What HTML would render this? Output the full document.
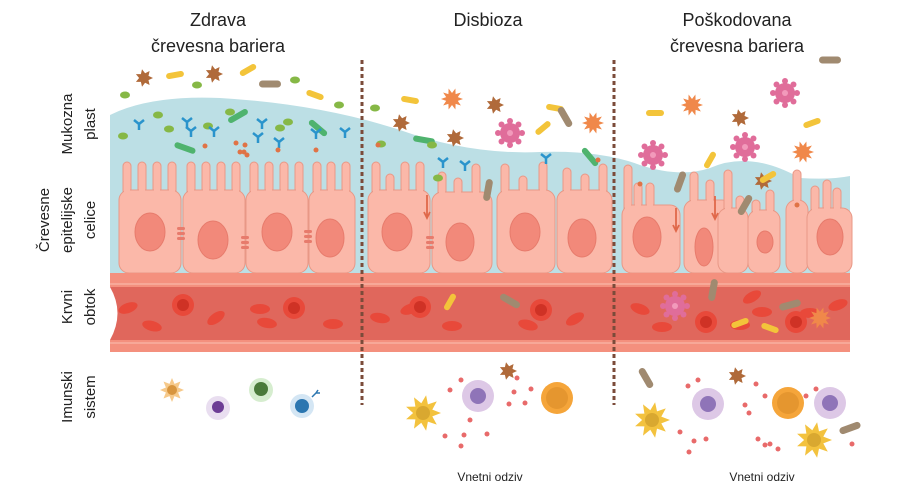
<!DOCTYPE html>
<html><head><meta charset="utf-8"><style>
body{margin:0;background:#fff;width:914px;height:491px;overflow:hidden}
svg{display:block}
text{font-family:"Liberation Sans",sans-serif;fill:#222}
</style></head><body>
<svg id="s" width="914" height="491" viewBox="0 0 914 491">
<g font-size="18" text-anchor="middle">
<text x="218" y="26">Zdrava</text><text x="218" y="52">črevesna bariera</text>
<text x="488" y="26">Disbioza</text>
<text x="737" y="26">Poškodovana</text><text x="737" y="52">črevesna bariera</text>
</g>
<g font-size="15" text-anchor="middle">
<g transform="translate(0,124) rotate(-90)"><text x="0" y="72">Mukozna</text><text x="0" y="95">plast</text></g>
<g transform="translate(0,220) rotate(-90)"><text x="0" y="49">Črevesne</text><text x="0" y="72">epitelijske</text><text x="0" y="95">celice</text></g>
<g transform="translate(0,307) rotate(-90)"><text x="0" y="72">Krvni</text><text x="0" y="95">obtok</text></g>
<g transform="translate(0,397) rotate(-90)"><text x="0" y="72">Imunski</text><text x="0" y="95">sistem</text></g>
</g>
<g font-size="12" text-anchor="middle"><text x="490" y="481">Vnetni odziv</text><text x="762" y="481">Vnetni odziv</text></g>
<path d="M110 115 Q150 95 220 98 Q320 104 400 130 Q470 155 540 152 Q600 150 640 165 Q680 178 710 168 Q750 150 800 178 Q830 180 850 176 L850 275 L110 275Z" fill="#bcdfe5"/>
<g id="cells"></g>
<rect x="110" y="273" width="740" height="14" fill="#f4907e"/>
<rect x="110" y="283" width="740" height="2" fill="#f7a898"/>
<path d="M110 287 H850 V340 H110 Q125 313 110 287Z" fill="#e0675c"/>
<rect x="110" y="340" width="740" height="12" fill="#f4907e"/>
<rect x="110" y="342" width="740" height="2" fill="#f7a898"/>
<g id="blood"></g>
<g id="bugs"></g>
<line x1="362" y1="60" x2="362" y2="405" stroke="#7b4b3a" stroke-width="3" stroke-dasharray="4 3"/>
<line x1="614" y1="60" x2="614" y2="405" stroke="#7b4b3a" stroke-width="3" stroke-dasharray="4 3"/>
</svg>
<script>
const NS="http://www.w3.org/2000/svg";
function el(p,t,a){const e=document.createElementNS(NS,t);for(const k in a)e.setAttribute(k,a[k]);document.getElementById(p).appendChild(e);return e;}
const C="#fbb8a9",B="#e89886";
function cell(x,w,top,nx,ny,rx,ry,fingers,fh){
  fingers.forEach((f,i)=>{el("cells","rect",{x:x+f,y:top-(fh[i]||28),width:8,height:(fh[i]||28)+10,rx:4,fill:C,stroke:B,"stroke-width":1});});
  el("cells","rect",{x:x,y:top,width:w,height:273-top,rx:10,fill:C,stroke:B,"stroke-width":1});
  fingers.forEach((f,i)=>{el("cells","rect",{x:x+f+1,y:top-2,width:6,height:8,fill:C});});
  if(rx>2)el("cells","ellipse",{cx:nx,cy:ny,rx:rx,ry:ry,fill:"#f2897a",stroke:"#e77b6c"});
}
const F4=[4,19,34,49];
cell(119,62,190,150,232,15,19,F4,[]);
cell(183,62,190,213,240,15,19,F4,[]);
cell(246,62,190,277,232,15,19,F4,[]);
cell(309,46,190,330,238,14,19,[4,18,33],[]);
cell(368,62,190,397,232,15,19,[4,18,33,48],[28,16,28,28]);
cell(432,60,192,460,242,14,19,[6,22,40],[20,14,28]);
cell(497,58,190,525,232,15,19,[4,22,42],[26,14,28]);
cell(557,55,190,582,238,14,19,[6,24,42],[22,16,26]);
cell(622,58,205,647,237,14,20,[2,12,24],[40,22,22]);
cell(684,48,200,704,247,9,19,[6,22],[28,20]);
cell(718,30,208,730,250,1,1,[6,18],[38,12]);
cell(748,32,210,765,242,8,11,[4,18],[10,20]);
cell(786,22,200,797,245,1,1,[7],[30]);
cell(807,45,208,830,237,13,18,[4,16,26],[22,28,20]);
[[181,227],[245,236],[308,230],[430,236]].forEach(([x,y])=>{for(let i=0;i<3;i++)el("cells","rect",{x:x-4,y:y+i*5,width:8,height:3,rx:1.5,fill:"#e77b6c"});});
[[427,195],[676,208],[715,196]].forEach(([x,y])=>{el("cells","path",{d:`M${x} ${y} V${y+22} M${x-3} ${y+17} L${x} ${y+23} L${x+3} ${y+17}`,stroke:"#e0684a","stroke-width":1.8,fill:"none"});});
const rbc=[[128,308,-20],[152,326,15],[260,309,0],[267,323,10],[333,324,0],[216,318,-35],[380,318,10],[410,309,-20],[452,326,0],[528,325,15],[575,319,-30],[640,309,20],[662,327,0],[740,325,0],[752,297,-30],[762,312,0],[810,313,0],[838,305,-20]];
rbc.forEach(([x,y,r])=>{el("blood","ellipse",{cx:x,cy:y,rx:10,ry:5,fill:"#e8493a",transform:`rotate(${r} ${x} ${y})`});});
[[183,305],[294,308],[420,307],[541,310],[706,322],[796,322]].forEach(([x,y])=>{el("blood","circle",{cx:x,cy:y,r:11,fill:"#e8493a"});el("blood","circle",{cx:x,cy:y,r:6,fill:"#cf3225"});});
function star(x,y,r,n,c,pid){let d="";for(let i=0;i<n*2;i++){const a=Math.PI*i/n,rr=i%2?r*0.55:r;d+=(i?"L":"M")+(x+rr*Math.cos(a)).toFixed(1)+" "+(y+rr*Math.sin(a)).toFixed(1);}el(pid||"bugs","path",{d:d+"Z",fill:c});}
function pill(x,y,l,w,r,c){el("bugs","rect",{x:x-l/2,y:y-w/2,width:l,height:w,rx:w/2,fill:c,transform:`rotate(${r} ${x} ${y})`});}
function dot(x,y,r,c){el("bugs","circle",{cx:x,cy:y,r:r,fill:c});}
function virus(x,y){for(let i=0;i<8;i++){const a=i*Math.PI/4;dot(x+12*Math.cos(a),y+12*Math.sin(a),3,"#e06d9a");}dot(x,y,10,"#e06d9a");dot(x,y,3,"#f29abb");}
[[144,78],[214,74],[401,123],[495,105],[455,138],[740,118],[763,181],[737,376],[508,371]].forEach(([x,y])=>star(x,y,9,7,"#b06a3a"));
[[452,99],[593,123],[803,152],[692,105],[820,318]].forEach(([x,y])=>star(x,y,11,10,"#f0884a"));
[[510,133],[653,155],[745,147],[785,93],[675,306]].forEach(([x,y])=>virus(x,y));
[[175,75,-10],[248,70,-30],[315,95,20],[410,100,10],[543,128,-40],[555,108,10],[655,113,0],[710,160,-60],[768,177,-30],[812,123,-20],[740,323,-20],[450,302,-60],[770,328,20]].forEach(([x,y,r])=>pill(x,y,18,6,r,"#f3c43a"));
[[270,84,0],[510,301,30],[565,117,60],[488,190,-80],[680,182,-70],[745,205,-60],[713,290,-80],[646,378,60],[850,428,-20],[830,60,0],[790,305,-15]].forEach(([x,y,r])=>pill(x,y,22,7,r,"#a08a70"));
[[185,148,20],[238,116,-30],[318,128,40],[424,140,10],[590,157,50]].forEach(([x,y,r])=>pill(x,y,22,6,r,"#4fb36e"));
[[125,95],[197,85],[123,136],[158,115],[169,129],[208,126],[230,112],[280,128],[288,122],[295,80],[339,105],[375,108],[381,144],[432,145],[438,178]].forEach(([x,y])=>{el("bugs","ellipse",{cx:x,cy:y,rx:5,ry:3.5,fill:"#86b846"});});
[[139,124],[187,122],[191,131],[214,131],[262,123],[258,137],[279,142],[316,133],[345,132],[443,162],[465,165],[546,158]].forEach(([x,y])=>{el("bugs","path",{d:`M${x} ${y+6} V${y} L${x-5} ${y-4} M${x} ${y} L${x+5} ${y-4}`,stroke:"#2a94cc","stroke-width":2.5,fill:"none"});});
[[236,143],[240,152],[244,152],[247,155],[205,146],[245,145],[278,150],[316,150],[378,145],[640,184],[797,205],[598,160]].forEach(([x,y])=>dot(x,y,2.5,"#e07346"));
function yellow(x,y){star(x,y,18,9,"#f3c23e");dot(x,y,7,"#d9a830");}
yellow(423,413);yellow(652,420);yellow(814,440);
star(172,390,12,8,"#f6c98a");dot(172,390,5,"#d8953e");
[[478,396],[708,404],[830,403]].forEach(([x,y])=>{dot(x,y,16,"#ddc8e6");dot(x,y,8,"#8f74b8");});
[[557,398],[788,403]].forEach(([x,y])=>{dot(x,y,16,"#f5a53a");dot(x,y,11,"#e5962f");});
dot(218,408,12,"#e9def0");dot(218,407,6,"#6d3d95");
dot(261,390,12,"#d6edcf");dot(261,389,7,"#4a7a3a");
dot(302,406,12,"#d4e6f4");dot(302,406,7,"#2b76b0");
el("bugs","path",{d:"M312 397 l4 -4 M316 393 l2 -3 M316 393 l4 0",stroke:"#2b76b0","stroke-width":1.5,fill:"none"});
[[450,390],[461,380],[470,420],[464,435],[487,434],[445,436],[461,446],[514,392],[517,378],[509,404],[525,403],[531,389],[688,386],[698,380],[680,432],[694,441],[706,439],[689,452],[745,405],[749,413],[756,384],[765,396],[758,439],[765,445],[770,444],[778,449],[806,396],[816,389],[852,444]].forEach(([x,y])=>dot(x,y,2.5,"#e86a6a"));
</script>
</body></html>
